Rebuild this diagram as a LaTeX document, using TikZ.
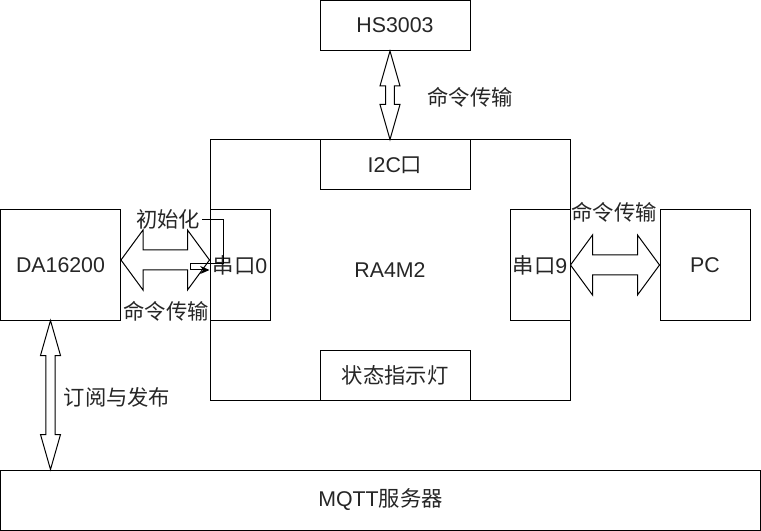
\documentclass[tikz,border=0pt]{standalone}
\usepackage{fontspec}
\setmainfont{Liberation Sans}
\newfontfamily\cjk{Noto Sans CJK SC}
\usetikzlibrary{calc,arrows.meta}
\begin{document}
\begin{tikzpicture}[x=0.75pt,y=-0.75pt,
  every node/.style={inner sep=0pt,font=\fontsize{16}{19}\selectfont,text=black!85},
  box/.style={draw,line width=0.75pt,fill=white},
  lbl/.style={},
  flex/.style={draw,fill=white,line width=0.75pt,line join=miter},
  thin/.style={draw,line width=0.75pt}]
\useasboundingbox (0,0) rectangle (761,531);
% boxes
\node[box,minimum width=270pt,minimum height=195pt] (ra) at (390,270) {RA4M2};
\node[box,minimum width=112.5pt,minimum height=37.5pt] (hs) at (395,25.5) {HS3003};
\node[box,minimum width=112.5pt,minimum height=37.5pt] (i2c) at (395,165) {I2C{\cjk 口}};
\node[box,minimum width=112.5pt,minimum height=37.5pt] (led) at (395,375) {{\cjk 状态指示灯}};
\node[box,minimum width=45pt,minimum height=82.5pt] (su0) at (240,265) {{\cjk 串口}0};
\node[box,minimum width=45pt,minimum height=82.5pt] (su9) at (540,265) {{\cjk 串口}9};
\node[box,minimum width=90pt,minimum height=82.5pt] (da) at (60.5,265) {DA16200};
\node[box,minimum width=67.5pt,minimum height=82.5pt] (pc) at (705,265) {PC};
\node[box,minimum width=569.5pt,minimum height=45pt] (mq) at (380.5,500) {MQTT{\cjk 服务器}};
% flex arrows
% HS3003 <-> RA4M2 (vertical)
\draw[flex] let \p1=(hs.south -| ra.north), \p2=(ra.north) in
  (\x1,\y1) -- (\x1-7.5pt,\y1-26.25pt) -- (\x1-3.2pt,\y1-26.25pt)
  -- (\x2-3.2pt,\y2+26.25pt) -- (\x2-7.5pt,\y2+26.25pt) -- (\x2,\y2)
  -- (\x2+7.5pt,\y2+26.25pt) -- (\x2+3.2pt,\y2+26.25pt)
  -- (\x1+3.2pt,\y1-26.25pt) -- (\x1+7.5pt,\y1-26.25pt) -- cycle;
% DA16200 <-> MQTT (vertical)
\draw[flex] let \p1=($(da.south)+(-10,0)$), \p2=(\p1 |- mq.north) in
  (\x1,\y1) -- (\x1-7.5pt,\y1-26.25pt) -- (\x1-3.4pt,\y1-26.25pt)
  -- (\x2-3.4pt,\y2+26.25pt) -- (\x2-7.5pt,\y2+26.25pt) -- (\x2,\y2)
  -- (\x2+7.5pt,\y2+26.25pt) -- (\x2+3.4pt,\y2+26.25pt)
  -- (\x1+3.4pt,\y1-26.25pt) -- (\x1+7.5pt,\y1-26.25pt) -- cycle;
% DA16200 <-> 串口0 (horizontal)
\draw[flex] let \p1=($(da.east)+(0,-5)$), \p2=(\p1 -| su0.west) in
  (\x1,\y1) -- (\x1+16.5pt,\y1+22.5pt) -- (\x1+16.5pt,\y1+7.5pt)
  -- (\x2-16.5pt,\y2+7.5pt) -- (\x2-16.5pt,\y2+22.5pt) -- (\x2,\y2)
  -- (\x2-16.5pt,\y2-22.5pt) -- (\x2-16.5pt,\y2-7.5pt)
  -- (\x1+16.5pt,\y1-7.5pt) -- (\x1+16.5pt,\y1-22.5pt) -- cycle;
% 串口9 <-> PC (horizontal)
\draw[flex] let \p1=(su9.east), \p2=(pc.west) in
  (\x1,\y1) -- (\x1+16.5pt,\y1+22.5pt) -- (\x1+16.5pt,\y1+7.5pt)
  -- (\x2-16.5pt,\y2+7.5pt) -- (\x2-16.5pt,\y2+22.5pt) -- (\x2,\y2)
  -- (\x2-16.5pt,\y2-22.5pt) -- (\x2-16.5pt,\y2-7.5pt)
  -- (\x1+16.5pt,\y1-7.5pt) -- (\x1+16.5pt,\y1-22.5pt) -- cycle;
% labels
\node[lbl] (l1) at (470,97) {{\cjk 命令传输}};
\node[lbl] (init) at (168,219) {{\cjk 初始化}};
\node[lbl] (l2) at (166,311) {{\cjk 命令传输}};
\node[lbl] (l3) at (614,212) {{\cjk 命令传输}};
\node[lbl] (l4) at (117,397) {{\cjk 订阅与发布}};
% init connector
\coordinate (c1) at (223,220);
\coordinate (c2) at (223,264);
\coordinate (c3) at (190,264);
\coordinate (c4) at (190,270);
\draw[thin,-{Stealth[length=7pt,width=6pt]}] ($(init.east)+(2,1)$) -- (c1) -- (c2) -- (c3) -- (c4) -- ($(su0.west)+(0,5)$);
\end{tikzpicture}
\end{document}
